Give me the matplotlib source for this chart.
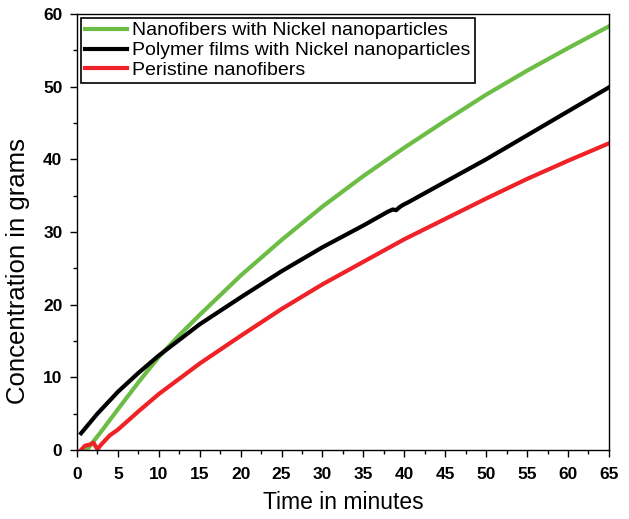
import matplotlib

matplotlib.use("Agg")
import matplotlib.pyplot as plt
from matplotlib.ticker import MultipleLocator

plt.rcParams["font.family"] = ["Liberation Sans", "DejaVu Sans"]

# Nanofibers with Nickel nanoparticles
green_x = [1.2, 3, 5, 7.5, 10, 12.5, 15, 20, 25, 30, 35, 40, 45, 50, 55, 60, 65]
green_y = [0.0, 2.6, 5.6, 9.3, 12.8, 15.8, 18.6, 24.0, 28.9, 33.5, 37.7, 41.6, 45.3, 48.9, 52.2, 55.3, 58.3]

# Polymer films with Nickel nanoparticles
black_x = [0.5, 2.5, 5, 7.5, 10, 15, 20, 25, 30, 35, 38, 38.6, 39.0, 39.4, 39.8, 40.5, 45, 50, 55, 60, 65]
black_y = [2.3, 5.0, 8.0, 10.6, 13.0, 17.3, 21.0, 24.6, 27.9, 30.9, 32.8, 33.1, 33.0, 33.4, 33.7, 34.1, 36.9, 40.0, 43.3, 46.6, 49.9]

# Peristine nanofibers
red_x = [0.5, 1.0, 1.5, 2.0, 2.5, 3.0, 4.0, 5, 7.5, 10, 15, 20, 25, 30, 35, 40, 45, 50, 55, 60, 65]
red_y = [0.0, 0.6, 0.7, 1.0, 0.1, 0.8, 2.0, 2.8, 5.3, 7.7, 11.9, 15.7, 19.4, 22.8, 25.9, 29.0, 31.8, 34.6, 37.3, 39.8, 42.2]

labels = [
    "Nanofibers with Nickel nanoparticles",
    "Polymer films with Nickel nanoparticles",
    "Peristine nanofibers",
]

fig = plt.figure(figsize=(6.29, 5.19), dpi=100)
ax = fig.add_axes([0.1224, 0.133, 0.8456, 0.840])

ax.plot(green_x, green_y, color="#6cbd45", lw=3, label=labels[0])
ax.plot(black_x, black_y, color="black", lw=3, label=labels[1])
ax.plot(red_x, red_y, color="#ee2227", lw=3, label=labels[2])

ax.set_xlim(0, 65)
ax.set_ylim(0, 60)
ax.xaxis.set_major_locator(MultipleLocator(5))
ax.xaxis.set_minor_locator(MultipleLocator(2.5))
ax.yaxis.set_major_locator(MultipleLocator(10))
ax.yaxis.set_minor_locator(MultipleLocator(5))
ax.tick_params(which="major", direction="out", length=5, width=1, labelsize=12.5)
ax.tick_params(which="minor", direction="out", length=3, width=1)
ax.tick_params(axis="x", which="major", pad=7.5)
ax.tick_params(axis="y", which="major", pad=5.5)
for lab in ax.get_xticklabels() + ax.get_yticklabels():
    lab.set_fontweight("bold")

for s in ax.spines.values():
    s.set_linewidth(1)

ax.set_xlabel("Time in minutes", fontsize=16.5, labelpad=6)
ax.set_ylabel("Concentration in grams", fontsize=18.5)
# label sits a bit below the axes centre in the original
ax.yaxis.set_label_coords(-0.088, 0.41)

leg = ax.legend(
    loc="upper left",
    fontsize=14,
    frameon=True,
    fancybox=False,
    edgecolor="black",
    framealpha=1,
    handlelength=2.15,
    handletextpad=0.3,
    borderpad=0.2,
    labelspacing=0.12,
    borderaxespad=0.2,
)
leg.get_frame().set_linewidth(1.2)

fig.savefig("out.png", dpi=100)
